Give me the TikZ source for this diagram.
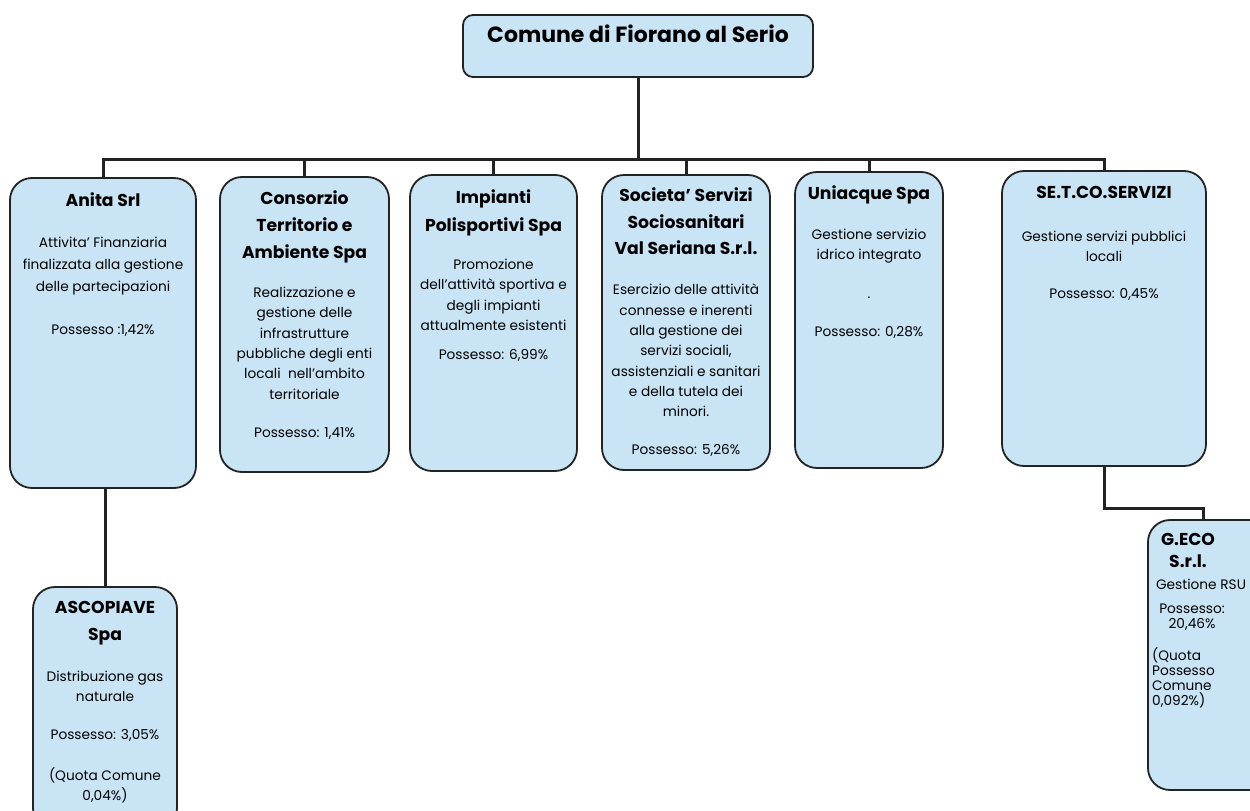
\documentclass[tikz,border=0pt]{standalone}
\usepackage{fontspec}
\setmainfont{Poppins}
\definecolor{boxblue}{RGB}{200,228,245}
\definecolor{inkline}{RGB}{35,35,35}
\begin{document}
\begin{tikzpicture}[x=1pt,y=-1pt,
  orgbox/.style={draw=inkline, line width=1.8pt, fill=boxblue, rounded corners=22pt, inner sep=0pt},
  ttl/.style={font=\fontsize{17.2}{26.5}\selectfont\bfseries, align=center, anchor=north, inner sep=0pt},
  body/.style={font=\fontsize{13.7}{20.3}\selectfont, align=center, anchor=north, inner sep=0pt},
  link/.style={draw=inkline, line width=3pt}]
\useasboundingbox (0,0) rectangle (1250,811);
\clip (0,0) rectangle (1250,811);

% boxes
\node[orgbox, rounded corners=10pt, minimum width=350pt, minimum height=62pt] (top) at (638,46) {};
\node[orgbox, minimum width=186pt, minimum height=310pt] (anita) at (103,333) {};
\node[orgbox, minimum width=169pt, minimum height=295pt] (cons) at (304.5,324.5) {};
\node[orgbox, minimum width=167pt, minimum height=296pt] (imp) at (493.5,323) {};
\node[orgbox, minimum width=168pt, minimum height=295pt] (soc) at (686,322.5) {};
\node[orgbox, minimum width=148pt, minimum height=296pt] (uni) at (869,320) {};
\node[orgbox, minimum width=204pt, minimum height=295pt] (setco) at (1104,318.5) {};
\node[orgbox, minimum width=144pt, minimum height=243pt] (asco) at (105,708.5) {};
\node[orgbox, minimum width=126pt, minimum height=270pt] (geco) at (1211,655) {};

% connectors
\coordinate (bus) at (638,159);
\coordinate (elb) at (1103,508);
\coordinate (gstub) at (1203,520);
\draw[link] (top.south) -- (top.south |- bus);
\draw[link] (anita.north) |- (setco.north |- bus) -- (setco.north);
\draw[link] (cons.north) -- (cons.north |- bus);
\draw[link] (imp.north) -- (imp.north |- bus);
\draw[link] (soc.north) -- (soc.north |- bus);
\draw[link] (uni.north) -- (uni.north |- bus);
\draw[link] (asco.north) -- (asco.north |- anita.south);
\draw[link] (setco.south) |- (elb) -| (gstub |- geco.north);

% texts
\node[ttl, font=\fontsize{22}{26}\selectfont\bfseries] (ttop) at (638,25) {Comune di Fiorano al Serio};

\node[ttl] (t1) at (103,193) {Anita Srl};
\node[body, font=\fontsize{13.7}{21.7}\selectfont] (b1) at (103,237) {Attivita' Finanziaria\\finalizzata alla gestione\\delle partecipazioni};
\node[body] (p1) at (103,324) {Possesso :1,42\%};

\node[ttl, font=\fontsize{17.2}{27}\selectfont\bfseries] (t2) at (304.5,191) {Consorzio\\Territorio e\\Ambiente Spa};
\node[body] (b2) at (304.5,287) {Realizzazione e\\gestione delle\\infrastrutture\\pubbliche degli enti\\locali\ \ nell'ambito\\territoriale};
\node[body] (p2) at (304.5,427) {Possesso: 1,41\%};

\node[ttl, font=\fontsize{17.2}{28}\selectfont\bfseries] (t3) at (493.5,190) {Impianti\\Polisportivi Spa};
\node[body] (b3) at (493.5,259) {Promozione\\dell'attività sportiva e\\degli impianti\\attualmente esistenti};
\node[body] (p3) at (493.5,349) {Possesso: 6,99\%};

\node[ttl] (t4) at (686,188) {Societa' Servizi\\Sociosanitari\\Val Seriana S.r.l.};
\node[body] (b4) at (686,284) {Esercizio delle attività\\connesse e inerenti\\alla gestione dei\\servizi sociali,\\assistenziali e sanitari\\e della tutela dei\\minori.};
\node[body] (p4) at (686,444) {Possesso: 5,26\%};

\node[ttl] (t5) at (869,186) {Uniacque Spa};
\node[body] (b5) at (869,229) {Gestione servizio\\idrico integrato};
\node[body, anchor=base] (d5) at (869,298) {.};
\node[body] (p5) at (869,326) {Possesso: 0,28\%};

\node[ttl] (t6) at (1104,186) {SE.T.CO.SERVIZI};
\node[body] (b6) at (1104,231) {Gestione servizi pubblici\\locali};
\node[body] (p6) at (1104,288) {Possesso: 0,45\%};

\node[ttl, font=\fontsize{17.2}{27}\selectfont\bfseries] (t7) at (105,601) {ASCOPIAVE\\Spa};
\node[body] (b7) at (105,671) {Distribuzione gas\\naturale};
\node[body] (p7) at (105,729) {Possesso: 3,05\%};
\node[body] (q7) at (105,767) {(Quota Comune\\0,04\%)};

\node[ttl, font=\fontsize{17.2}{22}\selectfont\bfseries] (t8) at (1188,533) {G.ECO\\S.r.l.};
\node[body] (b8) at (1201,579) {Gestione RSU};
\node[body, font=\fontsize{13.7}{15}\selectfont] (p8) at (1192,604) {Possesso:\\20,46\%};
\node[body, font=\fontsize{13.7}{15}\selectfont, align=left, anchor=north west] (q8) at (1152,647) {(Quota\\Possesso\\Comune\\0,092\%)};
\end{tikzpicture}
\end{document}
